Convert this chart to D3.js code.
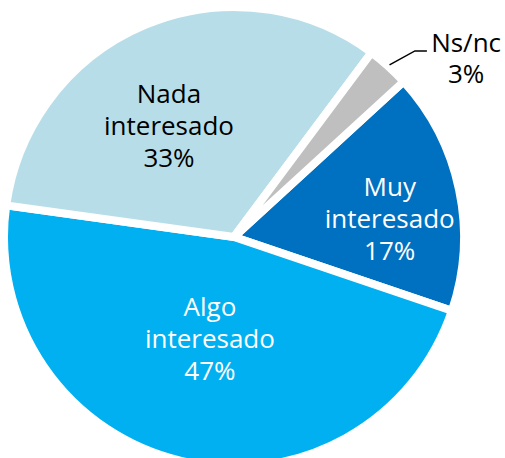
<!DOCTYPE html>
<html>
<head>
<meta charset="utf-8">
<script src="https://cdn.jsdelivr.net/npm/d3@7"></script>
<style>
  html, body { margin: 0; padding: 0; background: #fff; }
  svg { display: block; }
  text { font-family: Tahoma, "Open Sans", sans-serif; font-size: 26px; }
</style>
</head>
<body>
<svg id="chart" width="505" height="458"></svg>
<script>
// ---- data ----
const categories = ["Muy interesado", "Algo interesado", "Nada interesado", "Ns/nc"];
const values = [17, 47, 33, 3];
const labelNames = [["Muy", "interesado"], ["Algo", "interesado"], ["Nada", "interesado"], ["Ns/nc"]];

// ---- style / layout ----
const colors = ["#0070C0", "#00B0F0", "#B7DEE8", "#BFBFBF"];
const textColors = ["#FFFFFF", "#FFFFFF", "#000000", "#000000"];
const W = 505, H = 458;
const cx = 234, cy = 237, R = 230, gap = 8;
const startDeg = 47.5;
// label placement: angle offset from slice middle (deg) and radius
const labelLayout = [
  { dAngle: 8.6, r: 156 },
  { dAngle: -1.1, r: 114 },
  { dAngle: -9.8, r: 121 },
  { dAngle: 9.3, r: 297, outside: true }
];
const lineGap = 32;

const svg = d3.select("#chart");
const g = svg.append("g").attr("transform", `translate(${cx},${cy})`);

const toRad = d => d * Math.PI / 180;
const pie = d3.pie().sort(null).value(d => d)
  .startAngle(toRad(startDeg)).endAngle(toRad(startDeg) + 2 * Math.PI);
const arcs = pie(values);
const arc = d3.arc().innerRadius(0).outerRadius(R);

g.selectAll("path.slice").data(arcs).join("path")
  .attr("class", "slice")
  .attr("d", arc)
  .attr("fill", (d, i) => colors[i])
  .attr("stroke", "#fff")
  .attr("stroke-width", gap)
  .attr("stroke-linejoin", "miter");

const polar = (a, r) => [r * Math.sin(a), -r * Math.cos(a)];

arcs.forEach((d, i) => {
  const L = labelLayout[i];
  const mid = (d.startAngle + d.endAngle) / 2;
  const [x, y] = polar(mid + toRad(L.dAngle), L.r);
  const lines = labelNames[i].concat([values[i] + "%"]);
  const t = g.append("text")
    .attr("text-anchor", "middle")
    .attr("fill", textColors[i]);
  let y0;
  if (L.outside) {
    y0 = y;
  } else {
    y0 = y - lineGap * (lines.length - 1) / 2;
  }
  const gp = L.outside ? 31 : lineGap;
  lines.forEach((s, k) => {
    t.append("tspan").attr("x", x).attr("y", y0 + k * gp).text(s);
  });
  if (L.outside) {
    const p0 = polar(mid, R + 2);
    const p1 = polar(mid + toRad(2.1), R + 29.5);
    const p2 = [p1[0] + 12, p1[1]];
    g.append("path")
      .attr("d", d3.line()([p0, p1, p2]))
      .attr("fill", "none")
      .attr("stroke", "#000")
      .attr("stroke-width", 1.5);
  }
});
</script>
</body>
</html>
